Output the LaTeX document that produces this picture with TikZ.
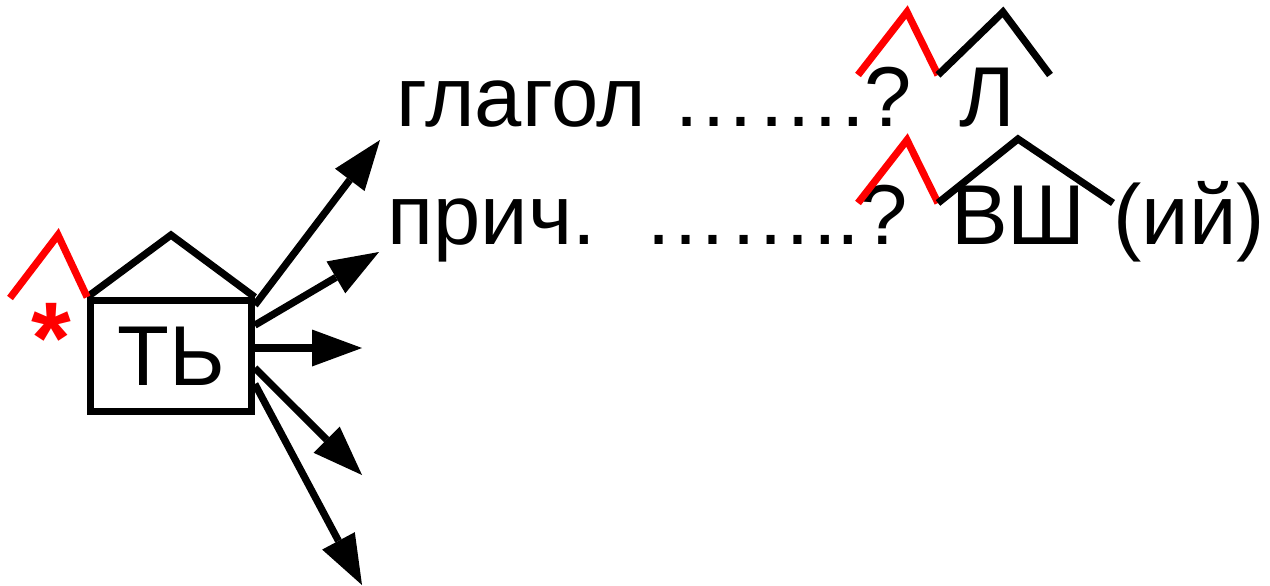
\documentclass[tikz,border=0pt]{standalone}
\usepackage{fontspec}
\setmainfont{Liberation Sans}
\usetikzlibrary{arrows.meta}
\tikzset{
  stroke/.style={line width=7.2pt},
  accent/.style={stroke, draw=red},
  pointer/.style={stroke, -{Triangle[length=50pt,width=37pt,line width=0pt]}},
  word/.style={inner sep=0pt, anchor=base west, font=\fontsize{85}{100}\selectfont},
  wordbox/.style={stroke, draw, inner sep=0pt, minimum width=160.5pt, minimum height=110.5pt,
    font=\fontsize{85}{100}\selectfont},
}
\begin{document}
\begin{tikzpicture}[x=1pt,y=-1pt]
			\useasboundingbox (0,0) rectangle (1270,586);
			
			%%%%% ROOT %%%%%
			\node[wordbox] (tb) at (171,356) {ТЬ};
			\draw[stroke] (tb.north west) -- (171,235) -- (tb.north east);
			\draw[accent] (10,298) -- (58,235) -- (tb.north west);
			\node[text=red, inner sep=0pt, anchor=base, font=\fontsize{102}{110}\selectfont\bfseries] (star) at (51,373) {*};
			
			%%%%% ARROWS %%%%%
			\coordinate (t1) at (380,140);
			\coordinate (t2) at (379,252);
			\coordinate (t3) at (362,348);
			\coordinate (t4) at (362,475);
			\coordinate (t5) at (362,585);
			\draw[pointer] ([yshift=-8pt]tb.north east) -- (t1);
			\draw[pointer] ([yshift=-28pt]tb.north east) -- (t2);
			\draw[pointer] ([yshift=8pt]tb.east) -- (t3);
			\draw[pointer] ([yshift=-12pt]tb.east) -- (t4);
			\draw[pointer] ([yshift=-28pt]tb.east) -- (t5);
			
			%%%%% VERB %%%%%
			\node[word] (verb) at (396,126) {глагол};
			\node[word] (verbdots) at (671,126) {…….?};
			\node[word] (suffl) at (959,126) {Л};
			\draw[accent] (858,75) -- (907,12) -- (938,75);
			\draw[stroke] (938,75) -- (1003,12) -- (1050,75);
			
			%%%%% PARTICIPLE %%%%%
			\node[word] (part) at (387,244) {прич.};
			\node[word] (partdots) at (643,244) {……..?};
			\node[word] (suffvsh) at (951,244) {ВШ};
			\node[word] (ending) at (1113,244) {(ий)};
			\draw[accent] (858,203) -- (907,140) -- (938,203);
			\draw[stroke] (938,203) -- (1018,139) -- (1113,203);
			
		\end{tikzpicture}
\end{document}
